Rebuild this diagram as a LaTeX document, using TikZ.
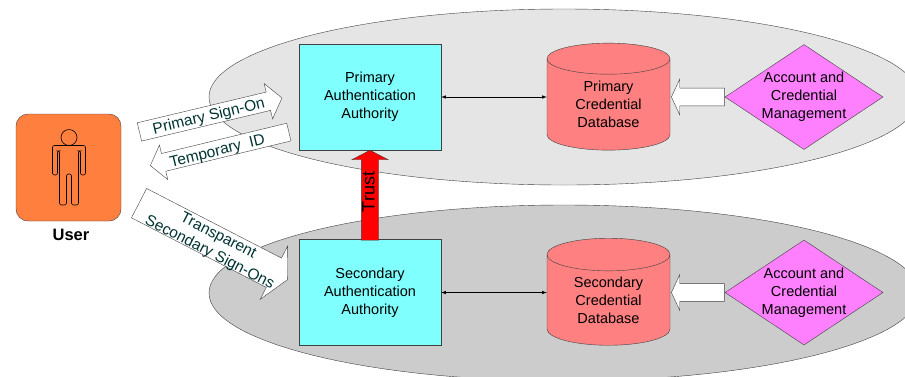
\documentclass[tikz,border=0pt]{standalone}
\usepackage{fontspec}
\setmainfont{Liberation Sans}
\usetikzlibrary{shapes.geometric,shapes.arrows}
\definecolor{authcyan}{HTML}{80FFFF}
\definecolor{dbred}{HTML}{FF8080}
\definecolor{mgmtpink}{HTML}{FF80FF}
\definecolor{userorange}{HTML}{FF7F3F}
\definecolor{edgegray}{HTML}{404040}
\definecolor{labelteal}{HTML}{003333}
\tikzset{
  boxfont/.style={font=\fontsize{14.5}{18}\selectfont, align=center, text=black},
  authzone/.style={ellipse, draw=edgegray, minimum width=710pt, minimum height=176pt, inner sep=0pt},
  authbox/.style={rectangle, draw=edgegray, fill=authcyan, minimum width=142pt, minimum height=106pt, boxfont},
  dbcyl/.style={cylinder, shape border rotate=90, aspect=0.47, draw=edgegray, fill=dbred, minimum width=123pt, minimum height=105pt, inner sep=0pt, boxfont},
  mgmt/.style={diamond, draw=edgegray, fill=mgmtpink, minimum width=158pt, minimum height=105pt, inner sep=0pt, aspect=1.5},
  fatarrow/.style={single arrow, draw=edgegray, fill=white, single arrow tip angle=#1, inner sep=0pt},
  fatarrow/.default=105,
  arrowtext/.style={inner sep=0pt, align=center, font=\fontsize{15.5}{18.7}\selectfont, text=labelteal},
  feedarrow/.style={fatarrow=130, shape border rotate=180, minimum height=53pt, inner ysep=8.7pt, single arrow head extend=9pt},
  link/.style={latex-latex, line width=0.6pt, black}
}
\begin{document}
\begin{tikzpicture}[x=1pt, y=-1pt]
  \useasboundingbox (0,0) rectangle (905,376);
  \node[authzone, fill=black!10] (primaryzone) at (564,97) {};
  \node[authzone, fill=black!20] (secondaryzone) at (564,293) {};
  % user
  \node[rectangle, rounded corners=12pt, draw=edgegray, fill=userorange, minimum width=105pt, minimum height=107pt] (user) at (68.5,167.5) {};
  \node[font=\fontsize{16.5}{18}\selectfont\bfseries] (userlabel) at (71,235) {User};
  \draw[line width=0.6pt] (69,137.5) circle (8);
  \draw[line width=0.6pt, rounded corners=2pt] (69,145.5) -- (52.5,145.5) -- (52.5,175) -- (57.5,175) -- (57.5,151)
    -- (59.5,151) -- (59.5,205) -- (66.5,205) -- (66.5,174) -- (71.5,174) -- (71.5,205) -- (78.5,205) -- (78.5,151)
    -- (80.5,151) -- (80.5,175) -- (85.5,175) -- (85.5,145.5) -- cycle;
  % primary side
  \node[authbox] (primaryauth) at (370,97) {Primary\\Authentication\\Authority};
  \node[dbcyl, minimum height=107pt] (primarydb) at (608.5,104.5) {Primary\\Credential\\Database};
  \node[mgmt, label={[boxfont]center:Account and\\Credential\\Management}] (primarymgmt) at (804,97) {};
  % secondary side
  \node[authbox] (secondaryauth) at (370,292.5) {Secondary\\Authentication\\Authority};
  \node[dbcyl, minimum height=107pt] (secondarydb) at (608.5,300) {Secondary\\Credential\\Database};
  \node[mgmt, label={[boxfont]center:Account and\\Credential\\Management}] (secondarymgmt) at (804,292.5) {};
  \draw[link] (primaryauth) -- (primaryauth -| primarydb.west);
  \draw[link] (secondaryauth) -- (secondaryauth -| secondarydb.west);
  % block arrows
  \node[feedarrow] (primaryfeed) at (700,97) {};
  \node[feedarrow] (secondaryfeed) at (700,292.5) {};
  \node[fatarrow=125, fill=red, rotate=90, minimum height=90pt, inner ysep=8.5pt, single arrow head extend=9.5pt] (trust) at (370,197.5) {};
  \node[fatarrow, rotate=13.4, minimum height=146.5pt, inner ysep=9.2pt, single arrow head extend=8.8pt] (signon) at (207.2,115.8) {};
  \node[fatarrow, rotate=13.6, shape border rotate=180, minimum height=142.5pt, inner ysep=8.9pt, single arrow head extend=8.7pt] (tempid) at (223,148) {};
  \node[fatarrow=126, rotate=-27.3, minimum height=167pt, inner ysep=16.3pt, single arrow head extend=13.4pt] (transparent) at (209.5,239.5) {};
  % arrow texts
  \node[arrowtext, rotate=90, text=black, font=\fontsize{18}{18}\selectfont] (trustlabel) at (368.6,192) {Trust};
  \node[arrowtext, rotate=13.4] (signonlabel) at (209,117) {Primary Sign-On};
  \node[arrowtext, rotate=13.6] (tempidlabel) at (217.5,152) {Temporary\ \ ID};
  \node[arrowtext, rotate=-27.3] (transparentlabel) at (213.7,244.7) {Transparent\\Secondary Sign-Ons};
\end{tikzpicture}
\end{document}
